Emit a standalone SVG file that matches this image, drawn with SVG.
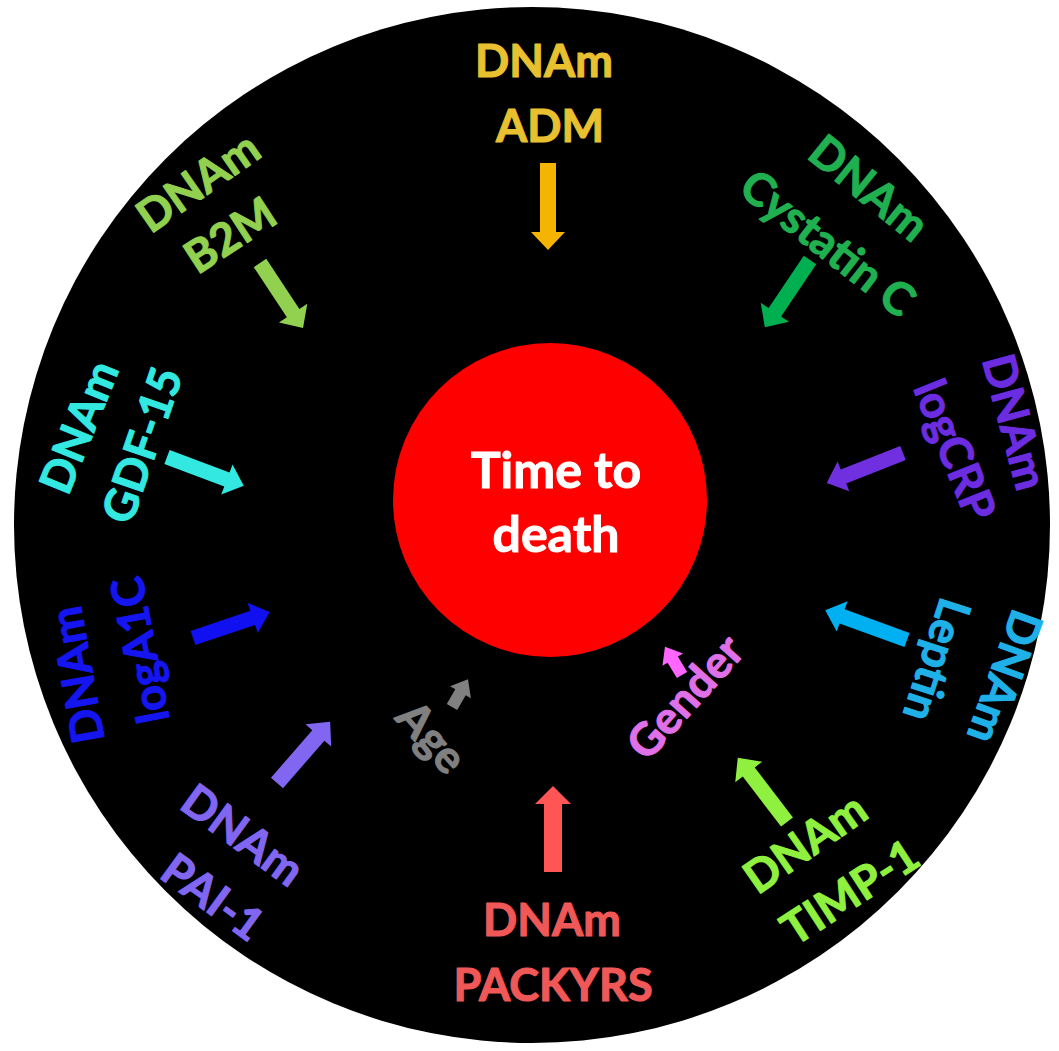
<svg xmlns="http://www.w3.org/2000/svg" width="1059" height="1051" viewBox="0 0 1059 1051">
<style>
  .lbl { font-family: Lato, "Open Sans", "Liberation Sans", sans-serif; font-weight: bold; font-size: 45px; text-anchor: middle; stroke-width: 1.1px; stroke-linejoin: round; }
  .ctr { font-family: Lato, "Open Sans", "Liberation Sans", sans-serif; font-weight: bold; font-size: 50px; text-anchor: middle; fill: #ffffff; stroke: #ffffff; stroke-width: 1px; }
</style>
<rect x="0" y="0" width="1059" height="1051" fill="#ffffff"/>
<circle id="disc" cx="532" cy="525" r="518" fill="#000000"/>
<g id="center-node">
  <circle cx="550" cy="500" r="157" fill="#ff0000"/>
  <text class="ctr" x="556" y="488">Time to</text>
  <text class="ctr" x="556" y="552">death</text>
</g>
<g id="connectors">
  <path fill="#f5b400" transform="translate(548,163) rotate(90)" d="M0,-8 H69 V-17 L87,0 L69,17 V8 H0 Z"/>
  <path fill="#92d050" transform="translate(260,263) rotate(56.5)" d="M0,-7.5 H60 V-17 L78,0 L60,17 V7.5 H0 Z"/>
  <path fill="#00b050" transform="translate(810,260) rotate(123.9)" d="M0,-7.5 H63 V-17 L81,0 L63,17 V7.5 H0 Z"/>
  <path fill="#7030e0" transform="translate(903,453) rotate(158.5)" d="M0,-7.5 H64 V-16 L82,0 L64,16 V7.5 H0 Z"/>
  <path fill="#00b0f0" transform="translate(907,640) rotate(200)" d="M0,-7.5 H69 V-16 L87,0 L69,16 V7.5 H0 Z"/>
  <path fill="#90f040" transform="translate(787,822) rotate(-127.4)" d="M0,-7.5 H63 V-17 L81,0 L63,17 V7.5 H0 Z"/>
  <path fill="#ff5555" transform="translate(553,872) rotate(-90)" d="M0,-9 H68 V-18 L86,0 L68,18 V9 H0 Z"/>
  <path fill="#ff66ff" transform="translate(682,675) rotate(-121)" d="M0,-6 H18 V-12 L33,0 L18,12 V6 H0 Z"/>
  <path fill="#808080" transform="translate(452,707) rotate(-60)" d="M0,-6 H17 V-12 L32,0 L17,12 V6 H0 Z"/>
  <path fill="#8066f0" transform="translate(277,783) rotate(-49)" d="M0,-8 H63 V-17 L81,0 L63,17 V8 H0 Z"/>
  <path fill="#1010f0" transform="translate(193,638) rotate(-18.7)" d="M0,-7.5 H63 V-16 L81,0 L63,16 V7.5 H0 Z"/>
  <path fill="#33e8e0" transform="translate(167,457) rotate(20.6)" d="M0,-7.5 H64 V-16 L82,0 L64,16 V7.5 H0 Z"/>
</g>
<g id="node-adm" fill="#e8c030" stroke="#e8c030">
  <text class="lbl" transform="translate(544,61)" y="16">DNAm</text>
  <text class="lbl" transform="translate(550,126)" y="16">ADM</text>
</g>
<g id="node-b2m" fill="#92d050" stroke="#92d050">
  <text class="lbl" transform="translate(198,182) rotate(-35)" y="16">DNAm</text>
  <text class="lbl" transform="translate(230,235) rotate(-33)" y="16">B2M</text>
</g>
<g id="node-cystatin" fill="#20b050" stroke="#20b050">
  <text class="lbl" transform="translate(869,188) rotate(39)" y="16">DNAm</text>
  <text class="lbl" transform="translate(828,243) rotate(38)" y="16">Cystatin C</text>
</g>
<g id="node-logcrp" fill="#6c2ce0" stroke="#6c2ce0">
  <text class="lbl" transform="translate(1015,422) rotate(75)" y="16">DNAm</text>
  <text class="lbl" transform="translate(955,450) rotate(68)" y="16">logCRP</text>
</g>
<g id="node-leptin" fill="#20b0e8" stroke="#20b0e8">
  <text class="lbl" transform="translate(1005,677) rotate(110)" y="16">DNAm</text>
  <text class="lbl" transform="translate(937,660) rotate(108)" y="16">Leptin</text>
</g>
<g id="node-timp1" fill="#90f040" stroke="#90f040">
  <text class="lbl" transform="translate(805,843) rotate(-35)" y="16">DNAm</text>
  <text class="lbl" transform="translate(850,892) rotate(-33)" y="16">TIMP-1</text>
</g>
<g id="node-packyrs" fill="#f05858" stroke="#f05858">
  <text class="lbl" transform="translate(552,920)" y="16">DNAm</text>
  <text class="lbl" transform="translate(553,985)" y="16">PACKYRS</text>
</g>
<g id="node-gender" fill="#e070e8" stroke="#e070e8">
  <text class="lbl" transform="translate(685,697) rotate(-48)" y="16">Gender</text>
</g>
<g id="node-age" fill="#808080" stroke="#808080">
  <text class="lbl" transform="translate(432,737) rotate(48)" y="16">Age</text>
</g>
<g id="node-pai1" fill="#8066f0" stroke="#8066f0">
  <text class="lbl" transform="translate(243,835) rotate(36)" y="16">DNAm</text>
  <text class="lbl" transform="translate(213,897) rotate(36)" y="16">PAI-1</text>
</g>
<g id="node-loga1c" fill="#1515f0" stroke="#1515f0">
  <text class="lbl" transform="translate(77,675) rotate(-100)" y="16">DNAm</text>
  <text class="lbl" transform="translate(140,650) rotate(-101)" y="16">logA1C</text>
</g>
<g id="node-gdf15" fill="#33e8e0" stroke="#33e8e0">
  <text class="lbl" transform="translate(79,427) rotate(-68)" y="16">DNAm</text>
  <text class="lbl" transform="translate(142,445) rotate(-71)" y="16">GDF-15</text>
</g>
</svg>
